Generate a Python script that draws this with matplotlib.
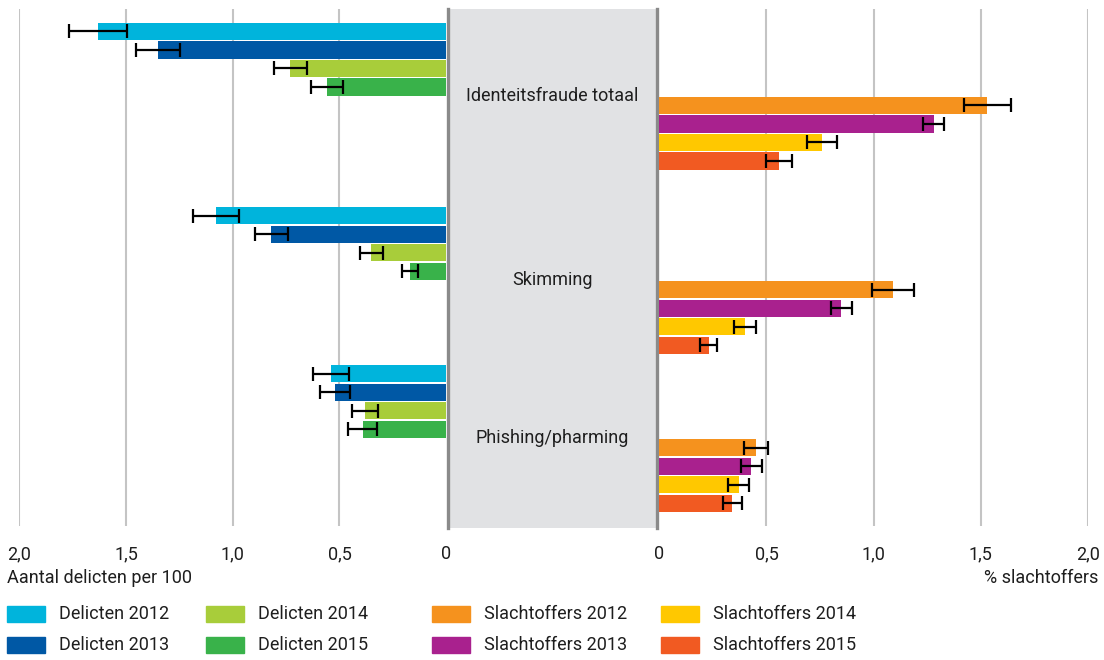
import numpy as np
import matplotlib.pyplot as plt

plt.rcParams['font.family'] = ['Roboto', 'DejaVu Sans']

groups = ["Identeitsfraude totaal", "Skimming", "Phishing/pharming"]
years = ["2012", "2013", "2014", "2015"]

# Delicten per 100 inwoners, rows = groups, cols = years
delicten = np.array([
    [1.63, 1.35, 0.73, 0.56],
    [1.08, 0.82, 0.35, 0.17],
    [0.54, 0.52, 0.38, 0.39],
])
delicten_err = np.array([
    [0.135, 0.105, 0.078, 0.075],
    [0.107, 0.077, 0.054, 0.036],
    [0.084, 0.070, 0.060, 0.068],
])

# % slachtoffers
slachtoffers = np.array([
    [1.53, 1.28, 0.76, 0.56],
    [1.09, 0.85, 0.40, 0.23],
    [0.45, 0.43, 0.37, 0.34],
])
slachtoffers_err = np.array([
    [0.110, 0.050, 0.070, 0.060],
    [0.097, 0.049, 0.052, 0.038],
    [0.057, 0.051, 0.050, 0.045],
])

tick_vals = [0, 0.5, 1.0, 1.5, 2.0]
tick_labels = ["0", "0,5", "1,0", "1,5", "2,0"]

col_del = ["#00b4dc", "#0058a5", "#a8cd3a", "#39b24a"]
col_sla = ["#f5921e", "#a9218e", "#ffc800", "#f15a22"]
txt_col = "#1e1e1e"
fs = 13

W, H = 1104, 660
fig = plt.figure(figsize=(W / 100, H / 100), dpi=100)


def px_axes(x0, x1, y0, y1):
    return fig.add_axes([x0 / W, 1 - y1 / H, (x1 - x0) / W, (y1 - y0) / H])


top, bottom = 9, 526
pitch = 18.5
group_offset = [0, 9.95, 18.49]
ylim = (-1.216 + (bottom - top) / pitch, -1.216)

ax_c = px_axes(447.8, 657.2, top, bottom + 2)
ax_l = px_axes(19.3, 446.2, top, bottom)
ax_r = px_axes(659.3, 1088, top, bottom)

err_kw = dict(ecolor="black", elinewidth=1.6, capsize=4.8, capthick=1.6)

for g in range(len(groups)):
    for k in range(4):
        yl = group_offset[g] + k
        yr = group_offset[g] + 4 + k
        ax_l.barh(yl, delicten[g, k], height=0.92, color=col_del[k],
                  xerr=delicten_err[g, k], error_kw=err_kw, zorder=2)
        ax_r.barh(yr, slachtoffers[g, k], height=0.92, color=col_sla[k],
                  xerr=slachtoffers_err[g, k], error_kw=err_kw, zorder=2)

for ax in (ax_l, ax_r):
    ax.set_facecolor("none")
    ax.set_ylim(*ylim)
    ax.set_yticks([])
    for s in ax.spines.values():
        s.set_visible(False)
    ax.set_xticks(tick_vals)
    ax.set_xticklabels(tick_labels)
    ax.tick_params(axis="x", length=0, pad=14, labelsize=fs, colors=txt_col)
    ax.grid(axis="x", color="#c4c4c4", linewidth=1.5, zorder=0)
    ax.set_axisbelow(True)

ax_l.set_xlim(2.0, 0)
ax_r.set_xlim(0, 2.0)
# the zero lines sit under the middle panel borders
ax_l.get_xgridlines()[0].set_visible(False)
ax_r.get_xgridlines()[0].set_visible(False)

# middle panel with the group names
ax_c.set_facecolor("#e1e2e4")
ax_c.set_xticks([])
ax_c.set_yticks([])
ax_c.set_xlim(0, 1)
ax_c.set_ylim(ylim[0] + 2 / pitch, ylim[1])
for side in ("top", "bottom"):
    ax_c.spines[side].set_visible(False)
for side in ("left", "right"):
    ax_c.spines[side].set_color("#8a8a8a")
    ax_c.spines[side].set_linewidth(2.4)
for g, name in enumerate(groups):
    ax_c.text(0.5, group_offset[g] + 3.5, name, ha="center", va="center",
              fontsize=fs, color=txt_col)

fig.text(7 / W, 1 - 578 / H, "Aantal delicten per 100", ha="left", va="center",
         fontsize=fs, color=txt_col)
fig.text(1098 / W, 1 - 578 / H, "% slachtoffers", ha="right", va="center",
         fontsize=fs, color=txt_col)

# legend
legend_items = [("Delicten " + y, c) for y, c in zip(years, col_del)] + \
               [("Slachtoffers " + y, c) for y, c in zip(years, col_sla)]
col_x = [7, 206, 432, 661]
row_y = [614, 645]
for i, (label, c) in enumerate(legend_items):
    cx = col_x[i // 2]
    cy = row_y[i % 2]
    fig.patches.append(plt.Rectangle((cx / W, 1 - (cy + 8) / H), 38 / W, 16 / H,
                                     transform=fig.transFigure, color=c))
    fig.text((cx + 52) / W, 1 - cy / H, label, ha="left", va="center",
             fontsize=fs, color=txt_col)

fig.savefig("out.png", dpi=100)
